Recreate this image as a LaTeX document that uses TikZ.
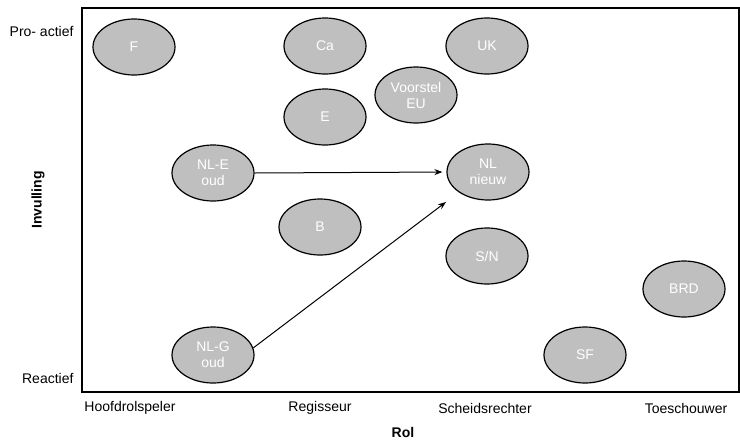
\documentclass[tikz,border=0pt]{standalone}
\usepackage{fontspec}
\setmainfont{Liberation Sans}
\usetikzlibrary{shapes,arrows.meta,positioning}

\begin{document}
\begin{tikzpicture}[
    x=1pt, y=-1pt,
    every node/.style={font=\fontsize{14}{16}\selectfont},
    land/.style={ellipse, draw, line width=1.2pt, fill=gray!50, text=white,
        minimum width=82pt, minimum height=56pt, inner sep=0pt, align=center},
    move/.style={-{Stealth[length=8pt,width=6pt]}, line width=1pt},
    axislabel/.style={font=\fontsize{14}{16}\selectfont\bfseries}
]
    \useasboundingbox (0,0) rectangle (740,440);
    \draw[line width=1.2pt] (82,8) rectangle (739,392);

    % y-as
    \node[anchor=east] (pro) at (77,31) {Pro- actief};
    \node[anchor=east] (reac) at (77,378) {Reactief};
    \node[axislabel, rotate=90] (invul) at (38,200) {Invulling};

    % x-as
    \node (hoofd) at (130,408) {Hoofdrolspeler};
    \node (regis) at (320,408) {Regisseur};
    \node (scheids) at (485,408) {Scheidsrechter};
    \node (toes) at (686,408) {Toeschouwer};
    \node[axislabel] (rol) at (403,432) {Rol};

    % landen
    \node[land] (F) at (134,47) {F};
    \node[land] (Ca) at (325,46) {Ca};
    \node[land] (UK) at (487,46) {UK};
    \node[land] (EU) at (416,95) {Voorstel\\EU};
    \node[land] (E) at (325,117) {E};
    \node[land] (NLE) at (213,173) {NL-E\\oud};
    \node[land] (NLN) at (488,172) {NL\\nieuw};
    \node[land] (B) at (320,227) {B};
    \node[land] (SN) at (487,256) {S/N};
    \node[land] (BRD) at (684,289) {BRD};
    \node[land] (SF) at (585,355) {SF};
    \node[land] (NLG) at (213,355) {NL-G\\oud};

    \coordinate (tip) at (446,202);
    \draw[move, shorten >=4pt] (NLE.east) -- (NLN.west);
    \draw[move] (NLG.10) -- (tip);
\end{tikzpicture}
\end{document}
